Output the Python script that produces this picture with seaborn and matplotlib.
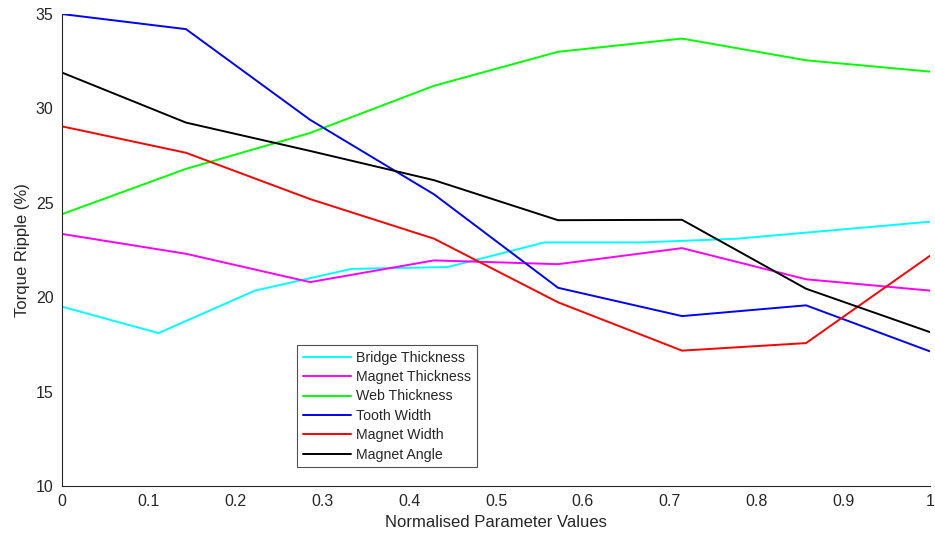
import numpy as np
import pandas as pd
import matplotlib
matplotlib.use("Agg")
import matplotlib.pyplot as plt
import seaborn as sns

# Normalised parameter grids (bridge thickness sampled at 10 levels, the rest at 8)
x_bridge = [0, 1/9, 2/9, 3/9, 4/9, 5/9, 6/9, 7/9, 8/9, 1]
x_other = [0, 1/7, 2/7, 3/7, 4/7, 5/7, 6/7, 1]

# Torque ripple (%) for each design parameter sweep
bridge_thickness = [19.5, 18.1, 20.35, 21.5, 21.6, 22.9, 22.9, 23.1, 23.55, 24.0]
magnet_thickness = [23.35, 22.3, 20.8, 21.95, 21.75, 22.6, 20.95, 20.35]
web_thickness = [24.4, 26.8, 28.7, 31.2, 33.0, 33.7, 32.55, 31.95]
tooth_width = [35.0, 34.2, 29.4, 25.45, 20.5, 19.0, 19.57, 17.13]
magnet_width = [29.05, 27.65, 25.2, 23.1, 19.73, 17.17, 17.57, 22.2]
magnet_angle = [31.9, 29.25, 27.75, 26.2, 24.08, 24.1, 20.45, 18.15]

series_names = ["Bridge Thickness", "Magnet Thickness", "Web Thickness",
                "Tooth Width", "Magnet Width", "Magnet Angle"]
series_values = [bridge_thickness, magnet_thickness, web_thickness,
                 tooth_width, magnet_width, magnet_angle]
series_colors = ["#00ffff", "#ff00ff", "#00ff00", "#0000ff", "#ff0000", "#000000"]

rows = []
for name, vals in zip(series_names, series_values):
    xs = x_bridge if len(vals) == len(x_bridge) else x_other
    for xv, yv in zip(xs, vals):
        rows.append({"x": xv, "ripple": yv, "Parameter": name})
df = pd.DataFrame(rows)

sns.set_style("white")
plt.rcParams["font.family"] = ["Liberation Sans", "DejaVu Sans"]

fig = plt.figure(figsize=(9.35, 5.4), dpi=100)
ax = fig.add_axes([0.0663, 0.1, 0.9284, 0.874])

sns.lineplot(data=df, x="x", y="ripple", hue="Parameter",
             hue_order=series_names, palette=series_colors,
             linewidth=1.4, ax=ax, estimator=None, sort=True)

ax.set_xlim(0, 1)
ax.set_ylim(10, 35)
ax.set_xticks(np.arange(0, 1.01, 0.1))
ax.set_xticklabels(["0", "0.1", "0.2", "0.3", "0.4", "0.5", "0.6", "0.7", "0.8", "0.9", "1"])
ax.set_yticks([10, 15, 20, 25, 30, 35])
ax.tick_params(direction="in", length=6, width=0.8, colors="#262626",
               labelsize=11.5, pad=6)
ax.set_xlabel("Normalised Parameter Values", fontsize=12, color="#262626")
ax.set_ylabel("Torque Ripple (%)", fontsize=12, color="#262626")

for side in ("top", "right"):
    ax.spines[side].set_visible(False)
for side in ("left", "bottom"):
    ax.spines[side].set_color("#262626")
    ax.spines[side].set_linewidth(0.8)

leg = ax.legend(loc="upper left", bbox_to_anchor=(0.2707, 0.2987), borderaxespad=0,
                frameon=True, fancybox=False, edgecolor="#262626", fontsize=10.2,
                handlelength=3.4, handletextpad=0.4, labelspacing=0.38,
                borderpad=0.4, title=None)
leg.get_frame().set_linewidth(0.8)

fig.savefig("out.png", dpi=100)
